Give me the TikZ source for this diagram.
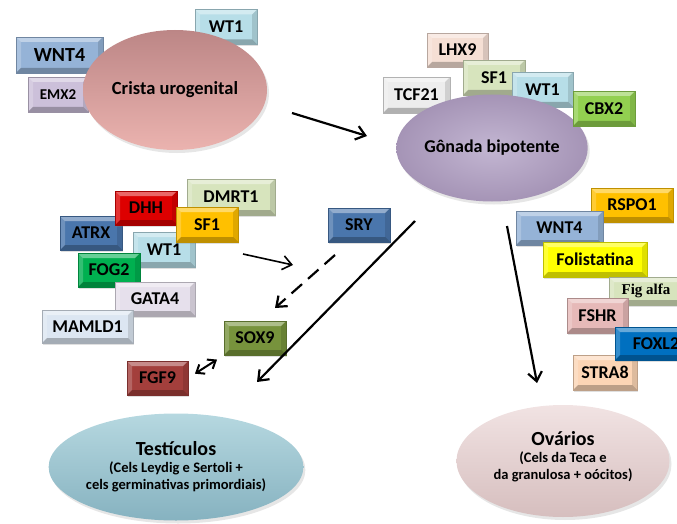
\documentclass[tikz,border=0pt]{standalone}
\usepackage{fontspec}
\setmainfont{Carlito}
\newfontfamily\figfont{Liberation Serif}
\usetikzlibrary{arrows.meta, shapes.geometric, shadows}

\definecolor{wtcyan}{HTML}{B7DEE8}
\definecolor{wntblue}{HTML}{95B3D7}
\definecolor{emxlilac}{HTML}{CCC0DA}
\definecolor{lhxpeach}{HTML}{F5DFD4}
\definecolor{tcfgrey}{HTML}{EDEDED}
\definecolor{paleolive}{HTML}{D7E4BD}
\definecolor{cbxgreen}{HTML}{92D050}
\definecolor{dhhred}{HTML}{DD0000}
\definecolor{amber}{HTML}{FFC000}
\definecolor{steelblue}{HTML}{4A76AC}
\definecolor{foggreen}{HTML}{00B050}
\definecolor{gatalilac}{HTML}{E6E0EC}
\definecolor{mamblue}{HTML}{DCE6F2}
\definecolor{soxolive}{HTML}{77933C}
\definecolor{fgfbrown}{HTML}{A33F3C}
\definecolor{follyellow}{HTML}{FFFF00}
\definecolor{fshrpink}{HTML}{E6B9B8}
\definecolor{foxblue}{HTML}{0070C0}
\definecolor{strapeach}{HTML}{FCD5B5}
\definecolor{cristatop}{HTML}{BC8686}
\definecolor{cristabot}{HTML}{EBB3AF}
\definecolor{gonadin}{HTML}{C3B6D2}
\definecolor{gonadout}{HTML}{A594B6}
\definecolor{testtop}{HTML}{B6D8E0}
\definecolor{testbot}{HTML}{86B2C0}
\definecolor{ovatop}{HTML}{F1E3E3}
\definecolor{ovabot}{HTML}{D6BEBE}

\tikzset{
  bevel/.style={path picture={
    \fill[white, opacity=.4] (path picture bounding box.north west) -- (path picture bounding box.north east)
      -- ([shift={(-5pt,-5pt)}]path picture bounding box.north east) -- ([shift={(5pt,-5pt)}]path picture bounding box.north west) -- cycle;
    \fill[white, opacity=.2] (path picture bounding box.north west) -- ([shift={(5pt,-5pt)}]path picture bounding box.north west)
      -- ([shift={(5pt,5pt)}]path picture bounding box.south west) -- (path picture bounding box.south west) -- cycle;
    \fill[black, opacity=.12] (path picture bounding box.north east) -- ([shift={(-5pt,-5pt)}]path picture bounding box.north east)
      -- ([shift={(-5pt,5pt)}]path picture bounding box.south east) -- (path picture bounding box.south east) -- cycle;
    \fill[black, opacity=.25] (path picture bounding box.south west) -- ([shift={(5pt,5pt)}]path picture bounding box.south west)
      -- ([shift={(-5pt,5pt)}]path picture bounding box.south east) -- (path picture bounding box.south east) -- cycle;
  }}
}

\begin{document}
\begin{tikzpicture}[x=1pt, y=-1pt,
    gene/.style={rectangle, fill=#1, draw=#1!75!black, line width=.5pt,
                 minimum width=62pt, minimum height=35pt, inner sep=0pt,
                 font=\bfseries\fontsize{18}{18}\selectfont, bevel,
                 drop shadow={shadow xshift=1pt, shadow yshift=-1.5pt, opacity=.25}},
    organ/.style={ellipse, draw=none, align=center, inner sep=0pt, font=\bfseries,
                  drop shadow={shadow xshift=2pt, shadow yshift=-3pt, opacity=.2}},
    arrow/.style={-{Straight Barb[length=9pt, width=14pt]}, line width=2.2pt},
  ]
  \useasboundingbox (0,0) rectangle (677,524);

  % crista urogenital
  \node[gene=wtcyan] (wt1a) at (226,27) {WT1};
  \node[gene=wntblue, minimum width=87pt, minimum height=36pt, font=\bfseries\fontsize{20}{20}\selectfont] (wnt4a) at (59.5,55) {WNT4};
  \node[gene=emxlilac, minimum width=60pt, font=\bfseries\fontsize{15}{15}\selectfont] (emx2) at (58,94.5) {EMX2};
  \node[organ, top color=cristatop, bottom color=cristabot, minimum width=184pt, minimum height=120pt,
        font=\bfseries\fontsize{18.5}{18.5}\selectfont] (crista) at (175,90) {Crista urogenital};

  % gonada bipotente
  \node[gene=lhxpeach, minimum width=61pt, minimum height=34pt] (lhx9) at (457.5,50) {LHX9};
  \node[gene=tcfgrey, minimum width=67pt, minimum height=36pt, draw=black!30] (tcf21) at (416.5,95) {TCF21};
  \node[gene=paleolive] (sf1a) at (494,77.5) {SF1};
  \node[gene=wtcyan, minimum width=61pt] (wt1b) at (542.5,89.5) {WT1};
  \node[organ, inner color=gonadin, outer color=gonadout, minimum width=191pt, minimum height=107pt,
        font=\bfseries\fontsize{18}{18}\selectfont] (gonada) at (492,148) {Gônada bipotente};
  \node[gene=cbxgreen] (cbx2) at (604,108.5) {CBX2};

  % via masculina
  \node[gene=paleolive, minimum width=88pt, minimum height=36pt] (dmrt1) at (231,197) {DMRT1};
  \node[gene=steelblue, minimum height=34pt] (atrx) at (91,233) {ATRX};
  \node[gene=dhhred, minimum height=34pt] (dhh) at (146,208) {DHH};
  \node[gene=wtcyan] (wt1c) at (164,249.5) {WT1};
  \node[gene=amber] (sf1b) at (207,224.5) {SF1};
  \node[gene=foggreen, minimum height=34pt] (fog2) at (109,270) {FOG2};
  \node[gene=gatalilac, minimum width=80pt, minimum height=34pt] (gata4) at (155,299) {GATA4};
  \node[gene=mamblue, minimum width=91pt, minimum height=33pt] (mamld1) at (87.5,326.5) {MAMLD1};
  \node[gene=steelblue, minimum height=34pt] (sry) at (359,225) {SRY};
  \node[gene=soxolive, minimum height=34pt] (sox9) at (255,338) {SOX9};
  \node[gene=fgfbrown, minimum width=61pt, minimum height=34pt] (fgf9) at (157.5,378) {FGF9};
  \node[organ, top color=testtop, bottom color=testbot, minimum width=226pt, minimum height=107pt,
        font=\bfseries\fontsize{14.5}{17}\selectfont] (testis) at (176,467)
    {{\fontsize{20}{24}\selectfont Testículos}\\(Cels Leydig e Sertoli +\\cels germinativas primordiais)};

  % via feminina
  \node[gene=amber, minimum width=82pt, minimum height=34pt] (rspo1) at (632,205) {RSPO1};
  \node[gene=wntblue, minimum width=87pt, minimum height=34pt] (wnt4b) at (559.5,228) {WNT4};
  \node[gene=follyellow, minimum width=104pt] (folist) at (595,259.5) {Folistatina};
  \node[gene=paleolive, minimum width=74pt, minimum height=28pt, font=\figfont\bfseries\fontsize{15}{15}\selectfont] (figalfa) at (646,291) {Fig alfa};
  \node[gene=fshrpink, minimum width=61pt] (fshr) at (597.5,315.5) {FSHR};
  \node[gene=strapeach, minimum width=64pt] (stra8) at (605,372.5) {STRA8};
  \node[gene=foxblue, minimum width=82pt, minimum height=33pt] (foxl2) at (656,343.5) {FOXL2};
  \node[organ, top color=ovatop, bottom color=ovabot, minimum width=213pt, minimum height=112pt,
        font=\bfseries\fontsize{14.5}{17}\selectfont] (ovary) at (563,461)
    {{\fontsize{20}{24}\selectfont Ovários}\\(Cels da Teca e\\da granulosa + oócitos)\\[-6pt]\mbox{}};

  % setas
  \coordinate (cu-out) at (292,113);
  \coordinate (gb-in) at (367,136);
  \coordinate (gb-testis) at (415,221);
  \coordinate (testis-in) at (257,382);
  \coordinate (gb-ovary) at (507,226);
  \coordinate (ovary-in) at (537,383);
  \coordinate (cluster-out) at (243,254);
  \coordinate (cluster-in) at (293,265);
  \coordinate (sry-out) at (335,255);
  \coordinate (sox9-in) at (275,308);
  \draw[arrow] (cu-out) -- (gb-in);
  \draw[arrow] (gb-testis) -- (testis-in);
  \draw[arrow] (gb-ovary) -- (ovary-in);
  \draw[arrow, line width=1.6pt] (cluster-out) -- (cluster-in);
  \draw[arrow, dash pattern=on 14pt off 8pt] (sry-out) -- (sox9-in);
  \draw[{Straight Barb[length=7pt, width=11pt]}-{Straight Barb[length=7pt, width=11pt]}, line width=2pt,
        shorten <=8pt, shorten >=8pt] (fgf9.east) -- (sox9.south west);
\end{tikzpicture}
\end{document}
